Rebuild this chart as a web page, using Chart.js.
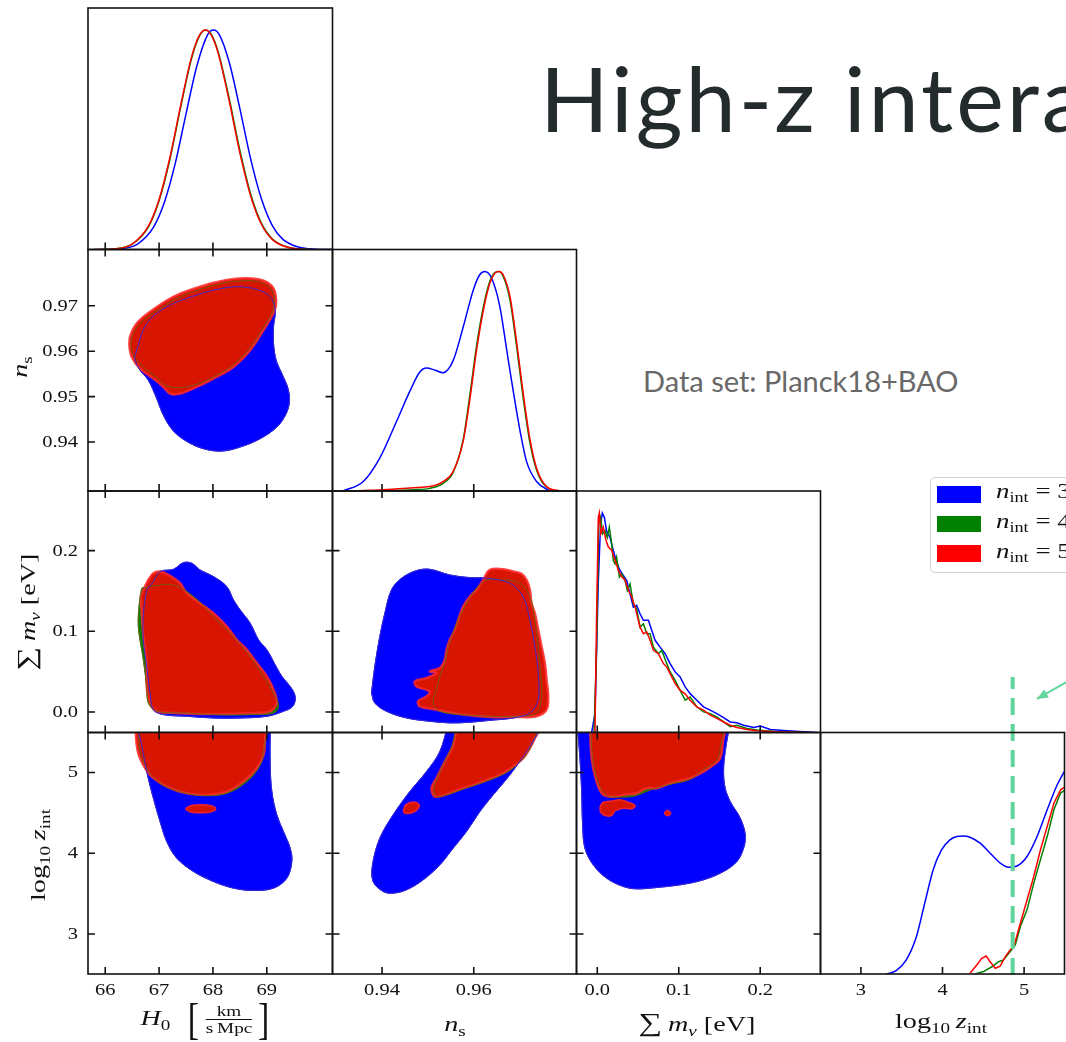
<!DOCTYPE html>
<html>
<head>
<meta charset="utf-8">
<script src="https://cdn.jsdelivr.net/npm/chart.js@4.4.1/dist/chart.umd.min.js"></script>
<style>
html, body { margin: 0; padding: 0; background: #fff; }
#wrap { position: relative; width: 1066px; height: 1042px; overflow: hidden; background: #fff; }
#wrap canvas { position: absolute; left: 0; top: 0; }
.t { position: absolute; white-space: nowrap; font-family: 'Liberation Serif', 'DejaVu Serif', serif; color: #111; line-height: 1; }
.ax { transform: translate(-50%, -50%) scaleX(1.28); font-size: 22px; }
.ay { transform: translate(-50%, -50%) rotate(-90deg) scaleX(1.28); font-size: 22px; }
.t sub { font-size: 0.68em; vertical-align: -0.32em; line-height: 0; font-style: normal; }
.frac { display: inline-flex; flex-direction: column; align-items: center; font-size: 15px; vertical-align: middle; margin: 0 2px; }
.frac .den { border-top: 1px solid #111; padding-top: 1px; }
.big { font-size: 44px; font-weight: 300; vertical-align: middle; transform: scaleX(0.6); display: inline-block; }
#title { position: absolute; left: 540px; top: 52px; font: 400 90px Lato, sans-serif; letter-spacing: 3px; color: #232b2d; white-space: nowrap; line-height: 1; }
#dset { position: absolute; left: 643px; top: 366px; font: 400 29px Lato, sans-serif; color: #686868; white-space: nowrap; line-height: 1; }
#leg { position: absolute; left: 930px; top: 477px; width: 160px; height: 94px; border: 1.5px solid #d2d2d2; border-radius: 5px; background: #fff; }
.sw { position: absolute; width: 44px; height: 16.5px; }
.ll { position: absolute; font-family: 'Liberation Serif', serif; font-size: 22px; line-height: 22px; transform: scaleX(1.22); transform-origin: left center; white-space: nowrap; color: #111; }
.ll sub { font-size: 0.68em; vertical-align: -0.3em; line-height: 0; }
</style>
</head>
<body>
<div id="wrap">
  <div id="title">High-z interactions</div>
  <div id="dset">Data set: Planck18+BAO</div>
</div>
<script>
// ---- tick values and labels ----
var h0Ticks = [66, 67, 68, 69];
var h0Labels = ['66', '67', '68', '69'];
var nsTicksX = [0.94, 0.96];
var nsLabelsX = ['0.94', '0.96'];
var nsTicksY = [0.94, 0.95, 0.96, 0.97];
var nsLabelsY = ['0.94', '0.95', '0.96', '0.97'];
var mnuTicks = [0, 0.1, 0.2];
var mnuLabels = ['0.0', '0.1', '0.2'];
var zTicks = [3, 4, 5];
var zLabels = ['3', '4', '5'];

// ---- legend ----
var seriesNames = ['3', '4', '5'];
var seriesColors = ['#0000ff', '#008000', '#ff0000'];

// ---- 1D marginals (normalised to peak 1) ----
var h0BlueX = [65.9, 66.3, 66.6, 66.9, 67.1, 67.3, 67.5, 67.7, 67.9, 68.01, 68.12, 68.3, 68.5, 68.7, 68.9, 69.1, 69.3, 69.6, 69.9, 70.2];
var h0BlueY = [0, 0.004, 0.025, 0.103, 0.216, 0.392, 0.618, 0.835, 0.978, 1, 0.978, 0.855, 0.642, 0.413, 0.231, 0.11, 0.046, 0.01, 0.0014, 0];
var h0RedX = [65.8, 66.2, 66.5, 66.8, 67.0, 67.2, 67.4, 67.6, 67.75, 67.86, 67.97, 68.1, 68.3, 68.5, 68.7, 68.9, 69.1, 69.4, 69.8];
var h0RedY = [0, 0.004, 0.025, 0.106, 0.228, 0.418, 0.655, 0.874, 0.976, 1, 0.976, 0.891, 0.679, 0.44, 0.244, 0.115, 0.046, 0.009, 0];
var h0GreenY = [0, 0.004, 0.024, 0.102, 0.222, 0.41, 0.647, 0.868, 0.973, 1, 0.98, 0.898, 0.69, 0.452, 0.253, 0.12, 0.049, 0.01, 0];

var nsBlueX = [0.9315, 0.9359, 0.9395, 0.9432, 0.9461, 0.9482, 0.9497, 0.9515, 0.9533, 0.9555, 0.9577, 0.9599, 0.9613, 0.9624, 0.9639, 0.9657, 0.9672, 0.9686, 0.9701, 0.9715, 0.9737, 0.9766];
var nsBlueY = [0, 0.043, 0.15, 0.319, 0.456, 0.541, 0.56, 0.551, 0.539, 0.594, 0.747, 0.916, 0.985, 1, 0.969, 0.839, 0.64, 0.456, 0.273, 0.135, 0.043, 0];
var nsRedX = [0.9323, 0.9395, 0.9468, 0.9504, 0.9533, 0.9555, 0.9577, 0.9591, 0.9606, 0.9621, 0.9635, 0.9646, 0.9655, 0.9664, 0.9679, 0.9693, 0.9708, 0.9722, 0.9737, 0.9759, 0.9788];
var nsRedY = [0, 0.005, 0.015, 0.02, 0.043, 0.089, 0.227, 0.41, 0.64, 0.824, 0.946, 0.992, 1, 0.985, 0.885, 0.686, 0.441, 0.242, 0.104, 0.02, 0];
var nsGreenY = [0, 0.002, 0.006, 0.012, 0.035, 0.085, 0.235, 0.43, 0.66, 0.84, 0.955, 0.995, 1, 0.978, 0.87, 0.665, 0.42, 0.225, 0.095, 0.017, 0];

var mnuBlueX = [-0.0069, -0.0028, 0.0013, 0.0041, 0.0062, 0.0087, 0.0115, 0.0156, 0.0197, 0.0238, 0.0279, 0.032, 0.0361, 0.0402, 0.0443, 0.0484, 0.0525, 0.0566, 0.0628, 0.0669, 0.071, 0.0771, 0.0833, 0.0894, 0.0956, 0.1017, 0.1079, 0.114, 0.1222, 0.1304, 0.1386, 0.1468, 0.155, 0.1632, 0.1714, 0.1796, 0.1919, 0.2001, 0.2124, 0.2329, 0.2534, 0.2698];
var mnuBlueY = [0, 0.086, 0.692, 0.95, 1, 0.98, 0.917, 0.889, 0.829, 0.776, 0.738, 0.715, 0.692, 0.632, 0.571, 0.579, 0.541, 0.511, 0.511, 0.465, 0.42, 0.389, 0.359, 0.314, 0.276, 0.253, 0.208, 0.177, 0.147, 0.117, 0.102, 0.086, 0.068, 0.048, 0.044, 0.033, 0.023, 0.029, 0.014, 0.008, 0.003, 0];
var mnuRedX = [-0.0028, -0.0008, 0.0013, 0.0025, 0.0045, 0.0074, 0.0107, 0.0136, 0.0177, 0.0218, 0.0259, 0.03, 0.0341, 0.0382, 0.0423, 0.0464, 0.0525, 0.0566, 0.0607, 0.0648, 0.0689, 0.075, 0.0812, 0.0853, 0.0894, 0.0956, 0.1017, 0.1079, 0.114, 0.1222, 0.1304, 0.1386, 0.1468, 0.155, 0.1632, 0.1714, 0.1837, 0.196, 0.2206, 0.2534];
var mnuRedY = [0, 0.541, 0.98, 1, 0.906, 0.936, 0.876, 0.845, 0.83, 0.785, 0.739, 0.709, 0.694, 0.648, 0.617, 0.571, 0.48, 0.45, 0.458, 0.42, 0.374, 0.359, 0.314, 0.298, 0.268, 0.223, 0.192, 0.176, 0.147, 0.117, 0.102, 0.079, 0.064, 0.048, 0.033, 0.023, 0.014, 0.008, 0.003, 0];
var mnuGreenX = [-0.004, -0.0008, 0.0017, 0.0041, 0.0066, 0.0095, 0.0123, 0.0148, 0.0177, 0.0197, 0.0218, 0.0238, 0.0271, 0.03, 0.0341, 0.0369, 0.0402, 0.0443, 0.0484, 0.0525, 0.0566, 0.0607, 0.0648, 0.0689, 0.075, 0.0791, 0.0853, 0.0894, 0.0956, 0.1017, 0.1079, 0.114, 0.1222, 0.1304, 0.1386, 0.1468, 0.155, 0.1632, 0.1714, 0.1837, 0.196, 0.2206, 0.2534];
var mnuGreenY = [0, 0.389, 0.95, 0.98, 0.905, 0.92, 0.889, 0.935, 0.859, 0.783, 0.768, 0.798, 0.708, 0.723, 0.692, 0.647, 0.677, 0.586, 0.564, 0.48, 0.495, 0.45, 0.45, 0.389, 0.359, 0.374, 0.314, 0.276, 0.238, 0.192, 0.147, 0.162, 0.117, 0.094, 0.086, 0.071, 0.048, 0.026, 0.033, 0.018, 0.011, 0.003, 0];

var zBlueX = [3.31, 3.433, 3.556, 3.68, 3.782, 3.885, 3.988, 4.091, 4.173, 4.255, 4.337, 4.461, 4.584, 4.707, 4.81, 4.913, 5.036, 5.159, 5.283, 5.406, 5.505];
var zBlueY = [0, 0.015, 0.064, 0.17, 0.322, 0.474, 0.565, 0.611, 0.626, 0.629, 0.623, 0.596, 0.55, 0.505, 0.486, 0.492, 0.535, 0.626, 0.748, 0.862, 0.93];
var zRedX = [4.337, 4.42, 4.481, 4.535, 4.584, 4.646, 4.707, 4.769, 4.83, 4.88, 4.954, 5.036, 5.118, 5.2, 5.283, 5.365, 5.447, 5.505];
var zRedY = [0.003, 0.041, 0.071, 0.082, 0.056, 0.026, 0.036, 0.079, 0.109, 0.132, 0.231, 0.337, 0.444, 0.565, 0.672, 0.778, 0.839, 0.854];
var zGreenX = [4.399, 4.502, 4.605, 4.687, 4.748, 4.83, 4.892, 4.954, 5.036, 5.118, 5.2, 5.283, 5.365, 5.447, 5.505];
var zGreenY = [0, 0.011, 0.033, 0.056, 0.064, 0.102, 0.132, 0.216, 0.292, 0.413, 0.52, 0.626, 0.748, 0.824, 0.839];

// marker line and arrow (log10 z_int, normalised density)
var zMarker = [4.86, 4.86];
var markerSpan = [-0.005, 1.353];
var arrowZ = [5.59, 5.156];
var arrowD = [1.344, 1.253];

// ---- 2D contours [x, y] ----
var h0nsBlue = [[66.553,0.95911],[66.77,0.9661],[67.142,0.96978],[67.638,0.97214],[68.071,0.97361],[68.443,0.9742],[68.815,0.97361],[69.063,0.97199],[69.156,0.96905],[69.125,0.96537],[69.125,0.96169],[69.174,0.95801],[69.279,0.95507],[69.385,0.95212],[69.422,0.94918],[69.36,0.94624],[69.186,0.94329],[68.877,0.94072],[68.505,0.93888],[68.164,0.93799],[67.823,0.93851],[67.514,0.94013],[67.266,0.94241],[67.08,0.94587],[66.956,0.94955],[66.801,0.95359],[66.646,0.9558],[66.553,0.95801]];
var h0nsGreen = [[66.473,0.96095],[66.497,0.96316],[66.615,0.96573],[66.863,0.96816],[67.297,0.9714],[67.761,0.97361],[68.257,0.97515],[68.629,0.97552],[68.908,0.97508],[69.094,0.97346],[69.143,0.97067],[69.094,0.96846],[68.908,0.96463],[68.66,0.96037],[68.35,0.95676],[68.009,0.95433],[67.7,0.95271],[67.39,0.95198],[67.142,0.95234],[66.956,0.95418],[66.708,0.95654],[66.522,0.95911]];
var h0nsRed = [[66.448,0.96095],[66.46,0.96316],[66.584,0.9661],[66.832,0.96868],[67.266,0.97199],[67.761,0.9742],[68.257,0.97567],[68.629,0.97604],[68.939,0.97552],[69.125,0.97383],[69.174,0.97089],[69.137,0.96868],[68.939,0.96463],[68.691,0.96022],[68.381,0.95654],[68.009,0.95396],[67.7,0.95212],[67.39,0.95065],[67.204,0.95065],[67.08,0.95212],[66.894,0.95396],[66.646,0.95617],[66.491,0.95875]];

var h0mnuBlue = [[66.77,0.1514],[66.894,0.1617],[67.018,0.1741],[67.266,0.1769],[67.452,0.1852],[67.607,0.1844],[67.761,0.1761],[68.009,0.1679],[68.257,0.1555],[68.381,0.139],[68.505,0.1266],[68.691,0.1101],[68.846,0.0895],[69.001,0.0771],[69.156,0.0585],[69.279,0.0441],[69.434,0.0317],[69.527,0.0193],[69.484,0.007],[69.31,0.0008],[69.001,-0.0054],[68.505,-0.0075],[68.009,-0.0075],[67.514,-0.0054],[67.08,-0.0033],[66.894,0.0028],[66.832,0.0235],[66.77,0.0565],[66.708,0.0895],[66.708,0.1225]];
var h0mnuGreen = [[66.677,0.1534],[66.894,0.1563],[67.266,0.1575],[67.638,0.1431],[68.009,0.1184],[68.381,0.0936],[68.691,0.0689],[68.939,0.0441],[69.125,0.0235],[69.217,0.007],[69.125,-0.0013],[68.691,-0.0033],[68.071,-0.0033],[67.452,-0.0013],[66.956,0.0008],[66.801,0.0111],[66.77,0.0317],[66.708,0.0647],[66.615,0.106],[66.634,0.1349]];
var h0mnuRed = [[66.659,0.1431],[66.708,0.1514],[66.801,0.1637],[66.894,0.172],[67.018,0.1741],[67.173,0.1699],[67.39,0.1596],[67.514,0.1472],[67.761,0.1349],[68.009,0.1225],[68.257,0.106],[68.443,0.0895],[68.629,0.0771],[68.815,0.0606],[69.001,0.0441],[69.125,0.0276],[69.186,0.0111],[69.063,0.0008],[68.753,-0.0013],[68.257,-0.0025],[67.761,-0.0025],[67.266,-0.0013],[66.956,0.0008],[66.832,0.0111],[66.77,0.0317],[66.77,0.0606],[66.708,0.0936],[66.677,0.1225]];

var h0zBlue = [[66.584,5.6],[66.677,5.341],[66.77,5.011],[66.894,4.681],[67.018,4.393],[67.142,4.145],[67.328,3.939],[67.638,3.774],[68.009,3.65],[68.381,3.568],[68.753,3.539],[69.125,3.568],[69.372,3.691],[69.465,3.898],[69.434,4.063],[69.31,4.269],[69.186,4.475],[69.094,4.764],[69.063,5.094],[69.063,5.465],[69.075,5.6]];
var h0zGreen = [[66.615,5.6],[66.646,5.259],[66.77,5.053],[67.018,4.867],[67.39,4.764],[67.823,4.714],[68.257,4.743],[68.629,4.888],[68.877,5.094],[68.957,5.341],[68.97,5.6]];
var h0zRed = [[66.56,5.6],[66.584,5.341],[66.646,5.176],[66.832,4.97],[67.142,4.826],[67.514,4.743],[67.885,4.723],[68.257,4.764],[68.567,4.888],[68.815,5.053],[68.939,5.218],[68.97,5.424],[68.988,5.6]];
var h0zRedIsland = [[67.49,4.55],[67.57,4.585],[67.77,4.6],[67.97,4.588],[68.05,4.55],[67.97,4.512],[67.77,4.5],[67.57,4.512]];

var nsmnuBlue = [[0.9377,0.0235],[0.93842,0.0565],[0.93951,0.0936],[0.94061,0.1225],[0.94206,0.1514],[0.94424,0.1658],[0.94751,0.1753],[0.95042,0.1769],[0.95478,0.1699],[0.95914,0.1666],[0.96278,0.1658],[0.96787,0.1596],[0.97078,0.1431],[0.97223,0.1142],[0.97332,0.0812],[0.97405,0.0482],[0.97405,0.0152],[0.97223,-0.0013],[0.9686,-0.0075],[0.96351,-0.0104],[0.95914,-0.0128],[0.95478,-0.0136],[0.95042,-0.0116],[0.94533,-0.0075],[0.94097,0.0008],[0.93842,0.0111]];
var nsmnuGreen = [[0.96096,0.1555],[0.96278,0.1637],[0.96641,0.1637],[0.97005,0.1596],[0.97223,0.1431],[0.97332,0.1142],[0.97405,0.0812],[0.97456,0.0482],[0.97478,0.0193],[0.97368,-0.0013],[0.96932,-0.0054],[0.96351,-0.0054],[0.95769,-0.0033],[0.9526,0.0008],[0.95115,0.0111],[0.95187,0.0276],[0.9526,0.0441],[0.95369,0.0606],[0.95442,0.0812],[0.95551,0.0977],[0.9566,0.1142],[0.95805,0.1307],[0.95951,0.1452]];
var nsmnuRed = [[0.96205,0.1637],[0.96351,0.1761],[0.96641,0.1769],[0.9686,0.1741],[0.97041,0.1712],[0.9715,0.1637],[0.97223,0.1514],[0.97259,0.1349],[0.97332,0.1225],[0.97405,0.1019],[0.97478,0.0812],[0.9755,0.0606],[0.97587,0.04],[0.97623,0.0193],[0.97587,0.0028],[0.97368,-0.0054],[0.96932,-0.0062],[0.96351,-0.0062],[0.95769,-0.0033],[0.95187,0.0028],[0.94824,0.007],[0.94788,0.0132],[0.94969,0.0193],[0.95042,0.0255],[0.94751,0.0317],[0.94715,0.0379],[0.94969,0.042],[0.95187,0.0482],[0.95042,0.0503],[0.9526,0.0544],[0.95369,0.0647],[0.95406,0.0771],[0.95478,0.0895],[0.95587,0.1019],[0.9566,0.1142],[0.95769,0.1307],[0.95914,0.1431],[0.9606,0.1514]];

var nszBlue = [[0.95442,5.6],[0.9526,5.259],[0.94969,5.011],[0.94606,4.764],[0.94242,4.475],[0.93951,4.186],[0.93792,3.856],[0.93806,3.65],[0.94024,3.526],[0.94242,3.506],[0.94533,3.547],[0.94897,3.671],[0.9526,3.856],[0.95551,4.063],[0.95842,4.269],[0.96133,4.516],[0.96423,4.723],[0.96787,4.97],[0.9715,5.259],[0.97332,5.424],[0.97441,5.6]];
var nszGreen = [[0.95624,5.6],[0.95536,5.341],[0.95369,5.135],[0.95202,4.929],[0.95129,4.764],[0.95187,4.702],[0.95406,4.723],[0.95769,4.797],[0.96205,4.879],[0.96641,4.978],[0.96896,5.073],[0.97114,5.197],[0.97259,5.341],[0.97368,5.6]];
var nszRed = [[0.95638,5.6],[0.95551,5.341],[0.95369,5.135],[0.95187,4.929],[0.95078,4.805],[0.95151,4.702],[0.95369,4.723],[0.95769,4.805],[0.96205,4.888],[0.96641,4.991],[0.9686,5.073],[0.97078,5.176],[0.97223,5.3],[0.97332,5.424],[0.97456,5.6]];
var nszRedIsland = [[0.9446,4.525],[0.94519,4.599],[0.94642,4.632],[0.94773,4.619],[0.94809,4.578],[0.94737,4.525],[0.94606,4.496],[0.94497,4.496]];

var mnuzBlue = [[-0.0246,5.6],[-0.0213,5.176],[-0.0192,4.764],[-0.018,4.351],[-0.0152,4.063],[-0.0049,3.856],[0.0115,3.691],[0.032,3.588],[0.0484,3.559],[0.073,3.576],[0.1017,3.609],[0.1304,3.671],[0.155,3.774],[0.1714,3.898],[0.1796,4.063],[0.1817,4.228],[0.1755,4.434],[0.1632,4.64],[0.157,4.805],[0.155,5.011],[0.157,5.259],[0.1611,5.506],[0.1624,5.6]];
var mnuzGreen = [[-0.0082,5.6],[-0.0057,5.176],[0.0013,4.867],[0.0115,4.714],[0.0279,4.698],[0.0423,4.702],[0.0525,4.731],[0.0648,4.785],[0.0894,4.855],[0.114,4.917],[0.1325,5.053],[0.1386,5.086],[0.1468,5.156],[0.1517,5.341],[0.1529,5.6]];
var mnuzRed = [[-0.009,5.6],[-0.0069,5.176],[-0.0008,4.888],[0.0074,4.723],[0.0238,4.702],[0.0341,4.723],[0.0484,4.743],[0.0607,4.805],[0.073,4.805],[0.0894,4.867],[0.114,4.929],[0.1304,5.011],[0.1427,5.094],[0.1509,5.176],[0.1542,5.383],[0.155,5.6]];
var mnuzRedIsland1 = [[0.0033,4.578],[0.0074,4.632],[0.0177,4.648],[0.0279,4.661],[0.0382,4.632],[0.0464,4.591],[0.0423,4.549],[0.032,4.558],[0.0218,4.525],[0.0177,4.467],[0.0095,4.467],[0.0041,4.508]];
var mnuzRedIsland2 = [[0.0821,4.496],[0.0861,4.529],[0.0901,4.496],[0.0861,4.463]];

// ---- layout ----
var W = 1066, H = 1042;
var colX = [88, 332.5, 576.5, 820.5, 1064.5];
var rowY = [8, 249.5, 491, 732.5, 974];
var AX = {
	h0: { min: 65.68, max: 70.22 },
	ns: { min: 0.9292, max: 0.9824 },
	mnu: { min: -0.0255, max: 0.274 },
	z: { min: 2.505, max: 5.495 },
	pdf: { min: 0, max: 1.1 }
};
var BLUE = '#0000ff', GREEN = '#008000', RED = '#ff0000';
var RED_FILL = '#d71500', RED_EDGE = 'rgba(255,40,40,0.85)';
var MARK = '#5fd49b';
var TICK = 7;

function ring(pts) {
	return pts.concat([pts[0]]).map(function (p) { return { x: p[0], y: p[1] }; });
}
function curve(xs, ys) {
	return xs.map(function (x, i) { return { x: x, y: ys[i] }; });
}
function fillSet(pts, col, edge, w, order) {
	return { data: ring(pts), backgroundColor: col, borderColor: edge, borderWidth: w, fill: 'shape', tension: 0.35, pointRadius: 0, order: order };
}
function edgeSet(pts, col, order) {
	return { data: ring(pts), borderColor: col, borderWidth: 1, fill: false, tension: 0.35, pointRadius: 0, order: order };
}
function pdfSet(xs, ys, col, order, smooth) {
	var d = { data: curve(xs, ys), borderColor: col, borderWidth: 1.5, fill: false, pointRadius: 0, order: order };
	if (smooth) d.cubicInterpolationMode = 'monotone';
	return d;
}
function contour(blue, green, red, islands) {
	var sets = [
		fillSet(blue, BLUE, BLUE, 1, 10),
		fillSet(green, GREEN, GREEN, 1, 9),
		fillSet(red, RED_FILL, RED_EDGE, 2.5, 8)
	];
	islands.forEach(function (p) { sets.push(fillSet(p, RED_FILL, RED_EDGE, 1.5, 7)); });
	sets.push(edgeSet(green, 'rgba(110,95,20,0.9)', 2));
	sets.push(edgeSet(blue, '#3a2ad0', 1));
	return sets;
}

function stretchText(ctx, txt, x, y, align) {
	ctx.save();
	ctx.translate(x, y);
	ctx.scale(1.28, 1);
	ctx.textAlign = align;
	ctx.fillText(txt, 0, 0);
	ctx.restore();
}

// frame, inward ticks and tick labels for each panel
var framePlugin = {
	id: 'frame',
	afterDatasetsDraw: function (chart, args, o) {
		var ctx = chart.ctx, a = chart.chartArea, sx = chart.scales.x, sy = chart.scales.y;
		ctx.save();
		ctx.strokeStyle = '#111';
		ctx.lineWidth = 1.6;
		ctx.beginPath();
		(o.xt || []).forEach(function (v) {
			var p = sx.getPixelForValue(v);
			ctx.moveTo(p, a.bottom); ctx.lineTo(p, a.bottom - TICK);
			if (o.yt) { ctx.moveTo(p, a.top); ctx.lineTo(p, a.top + TICK); }
		});
		(o.yt || []).forEach(function (v) {
			var p = sy.getPixelForValue(v);
			ctx.moveTo(a.left, p); ctx.lineTo(a.left + TICK, p);
			ctx.moveTo(a.right, p); ctx.lineTo(a.right - TICK, p);
		});
		ctx.stroke();
		ctx.strokeRect(a.left, a.top, a.right - a.left, a.bottom - a.top);
		ctx.fillStyle = '#111';
		ctx.font = '16px "Liberation Serif", serif';
		ctx.textBaseline = 'alphabetic';
		if (o.xl) o.xt.forEach(function (v, i) { stretchText(ctx, o.xl[i], sx.getPixelForValue(v), a.bottom + 21, 'center'); });
		if (o.yl) o.yt.forEach(function (v, i) { stretchText(ctx, o.yl[i], a.left - 10, sy.getPixelForValue(v) + 5, 'right'); });
		if (o.arrow !== undefined) {
			var pts = chart.getDatasetMeta(o.arrow).data;
			var p0 = pts[0], p1 = pts[1];
			var ang = Math.atan2(p1.y - p0.y, p1.x - p0.x);
			ctx.fillStyle = MARK;
			ctx.beginPath();
			ctx.moveTo(p1.x, p1.y);
			ctx.lineTo(p1.x - 12 * Math.cos(ang - 0.4), p1.y - 12 * Math.sin(ang - 0.4));
			ctx.lineTo(p1.x - 12 * Math.cos(ang + 0.4), p1.y - 12 * Math.sin(ang + 0.4));
			ctx.closePath();
			ctx.fill();
		}
		ctx.restore();
	}
};

function panel(c, r, xr, yr, datasets, frameOpts) {
	var cv = document.createElement('canvas');
	cv.width = W; cv.height = H;
	document.getElementById('wrap').appendChild(cv);
	return new Chart(cv, {
		type: 'line',
		data: { datasets: datasets },
		options: {
			responsive: false,
			animation: false,
			devicePixelRatio: 1,
			events: [],
			layout: { padding: { left: colX[c], top: rowY[r], right: W - colX[c + 1], bottom: H - rowY[r + 1] } },
			scales: {
				x: { type: 'linear', display: false, min: xr.min, max: xr.max },
				y: { type: 'linear', display: false, min: yr.min, max: yr.max }
			},
			plugins: { legend: { display: false }, tooltip: { enabled: false }, frame: frameOpts }
		},
		plugins: [framePlugin]
	});
}

// row 0
panel(0, 0, AX.h0, AX.pdf, [
	pdfSet(h0BlueX, h0BlueY, BLUE, 3, true),
	pdfSet(h0RedX, h0GreenY, GREEN, 2, true),
	pdfSet(h0RedX, h0RedY, RED, 1, true)
], { xt: h0Ticks });

// row 1
panel(0, 1, AX.h0, AX.ns, contour(h0nsBlue, h0nsGreen, h0nsRed, []),
	{ xt: h0Ticks, yt: nsTicksY, yl: nsLabelsY });
panel(1, 1, AX.ns, AX.pdf, [
	pdfSet(nsBlueX, nsBlueY, BLUE, 3, true),
	pdfSet(nsRedX, nsGreenY, GREEN, 2, true),
	pdfSet(nsRedX, nsRedY, RED, 1, true)
], { xt: nsTicksX });

// row 2
panel(0, 2, AX.h0, AX.mnu, contour(h0mnuBlue, h0mnuGreen, h0mnuRed, []),
	{ xt: h0Ticks, yt: mnuTicks, yl: mnuLabels });
panel(1, 2, AX.ns, AX.mnu, contour(nsmnuBlue, nsmnuGreen, nsmnuRed, []),
	{ xt: nsTicksX, yt: mnuTicks });
panel(2, 2, AX.mnu, AX.pdf, [
	pdfSet(mnuBlueX, mnuBlueY, BLUE, 3, false),
	pdfSet(mnuGreenX, mnuGreenY, GREEN, 2, false),
	pdfSet(mnuRedX, mnuRedY, RED, 1, false)
], { xt: mnuTicks });

// row 3
panel(0, 3, AX.h0, AX.z, contour(h0zBlue, h0zGreen, h0zRed, [h0zRedIsland]),
	{ xt: h0Ticks, yt: zTicks, xl: h0Labels, yl: zLabels });
panel(1, 3, AX.ns, AX.z, contour(nszBlue, nszGreen, nszRed, [nszRedIsland]),
	{ xt: nsTicksX, yt: zTicks, xl: nsLabelsX });
panel(2, 3, AX.mnu, AX.z, contour(mnuzBlue, mnuzGreen, mnuzRed, [mnuzRedIsland1, mnuzRedIsland2]),
	{ xt: mnuTicks, yt: zTicks, xl: mnuLabels });
panel(3, 3, AX.z, AX.pdf, [
	pdfSet(zBlueX, zBlueY, BLUE, 4, true),
	pdfSet(zGreenX, zGreenY, GREEN, 3, false),
	pdfSet(zRedX, zRedY, RED, 2, false),
	{ data: curve(zMarker, markerSpan), borderColor: MARK, borderWidth: 4, borderDash: [17, 9], pointRadius: 0, fill: false, clip: false, order: 1 },
	{ data: curve(arrowZ, arrowD), borderColor: MARK, borderWidth: 2, pointRadius: 0, fill: false, clip: false, order: 0 }
], { xt: zTicks, xl: zLabels, arrow: 4 });

// ---- axis titles and legend (text) ----
var wrap = document.getElementById('wrap');
function addText(cls, x, y, html) {
	var d = document.createElement('div');
	d.className = 't ' + cls;
	d.style.left = x + 'px';
	d.style.top = y + 'px';
	d.innerHTML = html;
	wrap.appendChild(d);
}
addText('ax', 207, 1020, '<i>H</i><sub>0</sub>&nbsp;&nbsp;<span class="big">[</span><span class="frac"><span>km</span><span class="den">s&#8201;Mpc</span></span><span class="big">]</span>');
addText('ax', 455, 1024, '<i>n</i><sub>s</sub>');
addText('ax', 697, 1023, '<span style="font-size:26px">&sum;</span>&#8201;<i>m</i><sub><i>&nu;</i></sub>&nbsp;[eV]');
addText('ax', 941, 1021, 'log<sub>10</sub>&#8201;<i>z</i><sub>int</sub>');
addText('ay', 20, 367, '<i>n</i><sub>s</sub>');
addText('ay', 27, 612, '<span style="font-size:26px">&sum;</span>&#8201;<i>m</i><sub><i>&nu;</i></sub>&nbsp;[eV]');
addText('ay', 38, 855, 'log<sub>10</sub>&#8201;<i>z</i><sub>int</sub>');

var leg = document.createElement('div');
leg.id = 'leg';
wrap.appendChild(leg);
seriesNames.forEach(function (name, i) {
	var sw = document.createElement('div');
	sw.className = 'sw';
	sw.style.left = '937px';
	sw.style.top = (486 + i * 29.6) + 'px';
	sw.style.background = seriesColors[i];
	wrap.appendChild(sw);
	var lb = document.createElement('div');
	lb.className = 'll';
	lb.style.left = '996px';
	lb.style.top = (480 + i * 29.8) + 'px';
	lb.innerHTML = '<i>n</i><sub>int</sub> = ' + name;
	wrap.appendChild(lb);
});
</script>
</body>
</html>
